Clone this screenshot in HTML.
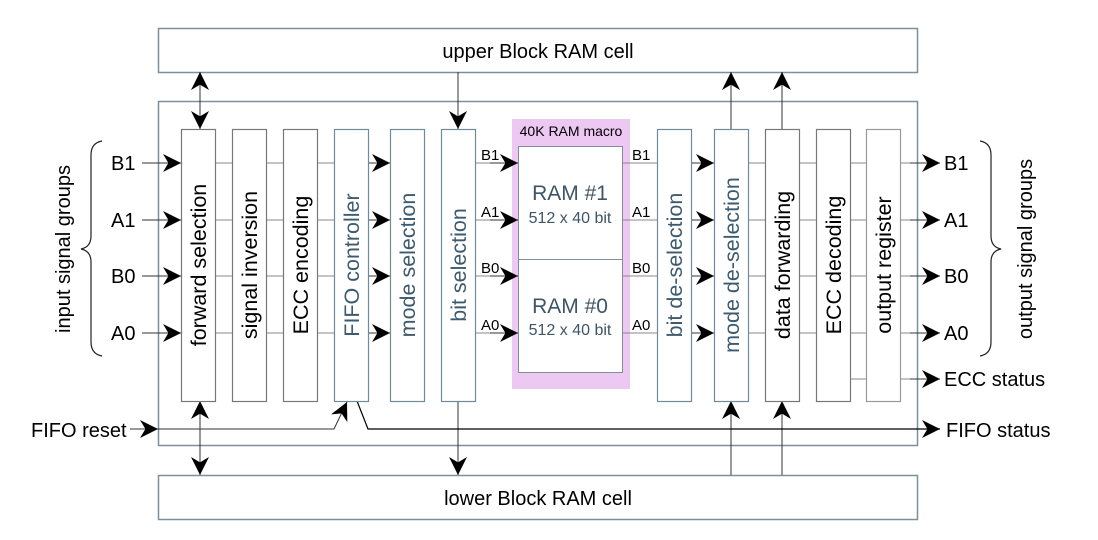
<!DOCTYPE html>
<html><head><meta charset="utf-8"><style>
html,body{margin:0;padding:0;background:#fff;}
svg{display:block;font-family:"Liberation Sans",sans-serif;}
</style></head><body>
<svg width="1098" height="540" viewBox="0 0 1098 540" xmlns="http://www.w3.org/2000/svg">
<defs>
<marker id="a" viewBox="0 0 10 10" refX="10" refY="5" markerWidth="18" markerHeight="18" markerUnits="userSpaceOnUse" orient="auto-start-reverse">
<path d="M0,0 L10,5 L0,10 L3,5 z" fill="#000"/></marker>
</defs>
<rect x="158.5" y="28.5" width="759" height="44" fill="#fff" stroke="#7d8f9b" stroke-width="1.5"/>
<text x="538" y="58" font-size="20" text-anchor="middle">upper Block RAM cell</text>
<rect x="158.5" y="475.5" width="759" height="44" fill="#fff" stroke="#7d8f9b" stroke-width="1.5"/>
<text x="538" y="505" font-size="20" text-anchor="middle">lower Block RAM cell</text>
<rect x="158.5" y="101.5" width="759" height="344" fill="none" stroke="#7d8f9b" stroke-width="1.5"/>
<rect x="512" y="119" width="118" height="270" fill="#ecc8f2"/>
<text x="571" y="136" font-size="14" text-anchor="middle">40K RAM macro</text>
<rect x="518.5" y="146.5" width="104" height="226" fill="#fff" stroke="#7d8f9b"/>
<line x1="518" y1="259.5" x2="622" y2="259.5" stroke="#7d8f9b"/>
<g fill="#3d5566" text-anchor="middle">
<text x="570" y="200" font-size="21">RAM #1</text>
<text x="570" y="223" font-size="16">512 x 40 bit</text>
<text x="570" y="313" font-size="21">RAM #0</text>
<text x="570" y="335" font-size="16">512 x 40 bit</text>
</g>
<g stroke="#888" stroke-width="1">
<path d="M215 163H232M266 163H283M317 163H334M475 163H512M622 163H657M748 163H765M799 163H816M850 163H866M900 163H925"/>
<path d="M215 220H232M266 220H283M317 220H334M475 220H512M622 220H657M748 220H765M799 220H816M850 220H866M900 220H925"/>
<path d="M215 276H232M266 276H283M317 276H334M475 276H512M622 276H657M748 276H765M799 276H816M850 276H866M900 276H925"/>
<path d="M215 333H232M266 333H283M317 333H334M475 333H512M622 333H657M748 333H765M799 333H816M850 333H866M900 333H925"/>
<path d="M850 379H866M900 379H925"/>
</g>
<g stroke="#333" stroke-width="1" marker-end="url(#a)" fill="none">
<line x1="142" y1="163" x2="181" y2="163"/><line x1="142" y1="220" x2="181" y2="220"/>
<line x1="142" y1="276" x2="181" y2="276"/><line x1="142" y1="333" x2="181" y2="333"/>
<line x1="368" y1="163" x2="390" y2="163"/><line x1="368" y1="220" x2="390" y2="220"/>
<line x1="368" y1="276" x2="390" y2="276"/><line x1="368" y1="333" x2="390" y2="333"/>
<line x1="490" y1="163" x2="518" y2="163"/><line x1="490" y1="220" x2="518" y2="220"/>
<line x1="490" y1="276" x2="518" y2="276"/><line x1="490" y1="333" x2="518" y2="333"/>
<line x1="691" y1="163" x2="714" y2="163"/><line x1="691" y1="220" x2="714" y2="220"/>
<line x1="691" y1="276" x2="714" y2="276"/><line x1="691" y1="333" x2="714" y2="333"/>
<line x1="910" y1="163" x2="940" y2="163"/><line x1="910" y1="220" x2="940" y2="220"/>
<line x1="910" y1="276" x2="940" y2="276"/><line x1="910" y1="333" x2="940" y2="333"/>
<line x1="910" y1="379" x2="940" y2="379"/>
<line x1="458" y1="72" x2="458" y2="129"/>
<line x1="458" y1="401" x2="458" y2="475"/>
<line x1="731" y1="129" x2="731" y2="72"/>
<line x1="782" y1="129" x2="782" y2="72"/>
<line x1="731" y1="475" x2="731" y2="401"/>
<line x1="782" y1="475" x2="782" y2="401"/>
<line x1="200" y1="72" x2="200" y2="129" marker-start="url(#a)"/>
<line x1="200" y1="401" x2="200" y2="475" marker-start="url(#a)"/>
<line x1="130" y1="429" x2="158" y2="429"/>
<polyline points="158,429 334,429 347,402"/>
</g>
<polyline points="357,401 368,429 940,429" fill="none" stroke="#000" stroke-width="1.2" marker-end="url(#a)"/>
<g fill="#fff" stroke-width="1.2">
<rect x="181.5" y="129.5" width="34" height="272" stroke="#777"/>
<rect x="232.5" y="129.5" width="34" height="272" stroke="#777"/>
<rect x="283.5" y="129.5" width="34" height="272" stroke="#777"/>
<rect x="334.5" y="129.5" width="34" height="272" stroke="#6f8a9a"/>
<rect x="390.5" y="129.5" width="34" height="272" stroke="#6f8a9a"/>
<rect x="441.5" y="129.5" width="34" height="272" stroke="#6f8a9a"/>
<rect x="657.5" y="129.5" width="34" height="272" stroke="#6f8a9a"/>
<rect x="714.5" y="129.5" width="34" height="272" stroke="#6f8a9a"/>
<rect x="765.5" y="129.5" width="34" height="272" stroke="#777"/>
<rect x="816.5" y="129.5" width="34" height="272" stroke="#777"/>
<rect x="866.5" y="129.5" width="34" height="272" stroke="#999"/>
</g>
<g font-size="21.5" text-anchor="middle">
<text transform="translate(206,265) rotate(-90)">forward selection</text>
<text transform="translate(257,265) rotate(-90)">signal inversion</text>
<text transform="translate(308,265) rotate(-90)">ECC encoding</text>
<text transform="translate(359,265) rotate(-90)" fill="#3d5a6e">FIFO controller</text>
<text transform="translate(415,265) rotate(-90)" fill="#3d5a6e">mode selection</text>
<text transform="translate(466,265) rotate(-90)" fill="#3d5a6e">bit selection</text>
<text transform="translate(682,265) rotate(-90)" fill="#3d5a6e">bit de-selection</text>
<text transform="translate(739,265) rotate(-90)" fill="#3d5a6e">mode de-selection</text>
<text transform="translate(790,265) rotate(-90)">data forwarding</text>
<text transform="translate(841,265) rotate(-90)">ECC decoding</text>
<text transform="translate(891,265) rotate(-90)">output register</text>
</g>
<g font-size="15">
<text x="481" y="160">B1</text><text x="481" y="217">A1</text><text x="481" y="273">B0</text><text x="481" y="330">A0</text>
<text x="632" y="160">B1</text><text x="632" y="217">A1</text><text x="632" y="273">B0</text><text x="632" y="330">A0</text>
</g>
<g font-size="20">
<text x="111" y="170">B1</text><text x="111" y="227">A1</text><text x="111" y="283">B0</text><text x="111" y="340">A0</text>
<text x="944" y="170">B1</text><text x="944" y="227">A1</text><text x="944" y="283">B0</text><text x="944" y="340">A0</text>
<text x="944" y="386">ECC status</text>
<text x="946" y="437">FIFO status</text>
<text x="31" y="437">FIFO reset</text>
<text transform="translate(70,249) rotate(-90)" text-anchor="middle">input signal groups</text>
<text transform="translate(1032,249) rotate(-90)" text-anchor="middle">output signal groups</text>
</g>
<path d="M102 141 Q91 143 91 155 V236 Q91 247 81 249 Q91 251 91 262 V342 Q91 354 102 356" fill="none" stroke="#222" stroke-width="1.2"/>
<path d="M980 141 Q991 143 991 155 V236 Q991 247 1001 249 Q991 251 991 262 V342 Q991 354 980 356" fill="none" stroke="#222" stroke-width="1.2"/>
</svg>
</body></html>
